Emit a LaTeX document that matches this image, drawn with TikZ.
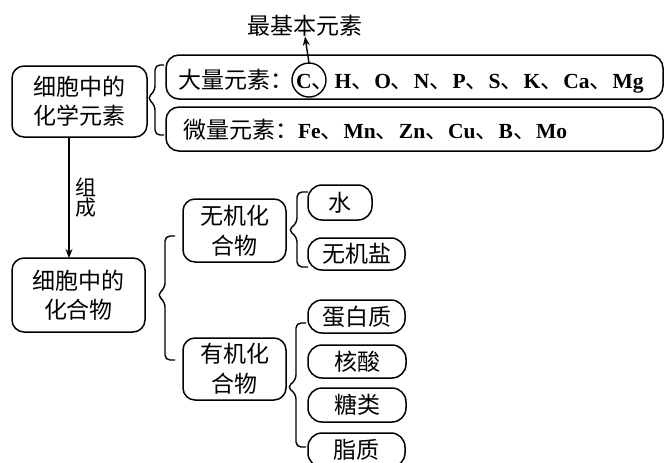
\documentclass[tikz,border=0pt]{standalone}
\usepackage{fontspec}
\setmainfont{Liberation Serif}
\newfontfamily\cjk{Noto Sans CJK SC}
\usetikzlibrary{arrows.meta}
\newcommand{\el}[1]{{\rmfamily\fontsize{21.5}{22}\selectfont\bfseries #1}}
\newcommand{\dun}{{\cjk 、}}
\begin{document}
\begin{tikzpicture}[x=1pt,y=-1pt,
  every node/.style={inner sep=0pt, outer sep=0pt},
  box/.style={draw, line width=1.5pt, rounded corners=12pt, align=center, font=\cjk\fontsize{23}{29}\selectfont},
  pill/.style={draw, line width=1.5pt, rounded corners=14pt, align=center, font=\cjk\fontsize{23}{26}\selectfont},
  wide/.style={draw, line width=1.5pt, rounded corners=13pt},
  rowtext/.style={anchor=base west, font=\cjk\fontsize{23}{24}\selectfont},
  bracestyle/.style={draw, line width=1.4pt, rounded corners=5pt},
  arr/.style={line width=1.4pt, -{Stealth[length=9pt,width=7pt]}}
]
\useasboundingbox (0,0) rectangle (665,463);

% left boxes
\node[box, minimum width=135pt, minimum height=71pt] (chem) at (79.5,101.5) {细胞中的\\化学元素};
\node[box, minimum width=133pt, minimum height=74pt] (comp) at (78.5,295) {细胞中的\\化合物};

% element boxes
\node[wide, minimum width=497pt, minimum height=44pt] (macro) at (414.5,77) {};
\node[wide, minimum width=497pt, minimum height=44pt] (micro) at (414.5,129) {};
\node[rowtext] (macropre) at (178,88) {大量元素：};
\node[rowtext] (cnode) at (macropre.base east) {\hspace{3pt}\el{C}\dun};
\node[rowtext] (macrorest) at (cnode.base east) {\el{H}\dun\el{O}\dun\el{N}\dun\el{P}\dun\el{S}\dun\el{K}\dun\el{Ca}\dun\el{Mg}};
\node[rowtext] (micropre) at (183,138) {微量元素：};
\node[rowtext] (microrest) at (micropre.base east) {\el{Fe}\dun\el{Mn}\dun\el{Zn}\dun\el{Cu}\dun\el{B}\dun\el{Mo}};
\node[draw, circle, line width=1.4pt, minimum size=34pt] (cc) at ([xshift=-4.75pt,yshift=1.5pt]cnode.center) {};
\node[font=\cjk\fontsize{23}{24}\selectfont] (basic) at (305,26) {最基本元素};
\draw[arr] (cc.north) -- (basic.south);

% compounds
\node[box, minimum width=103pt, minimum height=63pt, font=\cjk\fontsize{23}{30}\selectfont] (inorg) at (234.5,230.5) {无机化\\合物};
\node[box, minimum width=103pt, minimum height=62pt, font=\cjk\fontsize{23}{30}\selectfont] (org) at (234.5,369) {有机化\\合物};

\node[pill, minimum width=64pt, minimum height=35pt] (water) at (340,202.5) {水};
\node[pill, minimum width=97pt, minimum height=32pt] (salt) at (356.5,254) {无机盐};
\node[pill, minimum width=97pt, minimum height=33pt] (prot) at (356.5,316.5) {蛋白质};
\node[pill, minimum width=98pt, minimum height=33pt] (nuc) at (357,361.5) {核酸};
\node[pill, minimum width=98pt, minimum height=34pt] (sug) at (357,405) {糖类};
\node[pill, minimum width=97pt, minimum height=34pt] (lip) at (356.5,450) {脂质};

% arrow chem -> comp
\draw[arr] ([xshift=-10.5pt]chem.south) -- ([xshift=-9.5pt]comp.north);
\node[font=\cjk\fontsize{21}{20}\selectfont, align=center] (zucheng) at (86,198) {组\\成};

% braces
\draw[bracestyle] (164,65) -- (155,65) -- (155,91) -- (147,98) -- (155,105) -- (155,135) -- (164,135);
\draw[bracestyle] (175,236) -- (165,236) -- (165,288) -- (157,295) -- (165,302) -- (165,360) -- (175,360);
\draw[bracestyle] (308,192) -- (297,192) -- (297,223) -- (288,230) -- (297,237) -- (297,267) -- (308,267);
\draw[bracestyle] (306,323) -- (296,323) -- (296,380) -- (287,387) -- (296,394) -- (296,447) -- (306,447);
\end{tikzpicture}
\end{document}
